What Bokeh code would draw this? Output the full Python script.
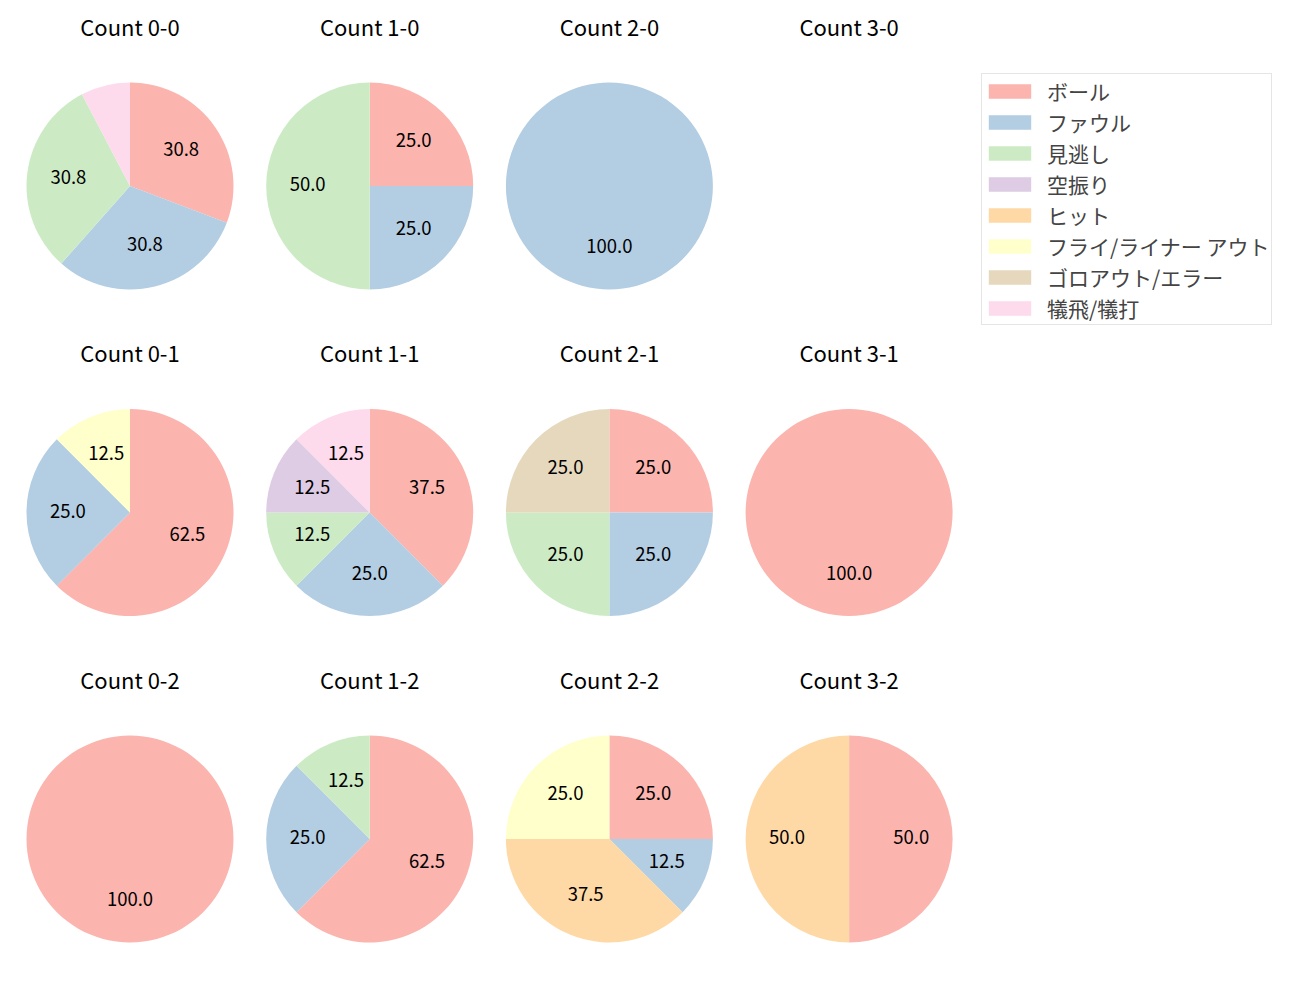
import numpy as np
from bokeh.plotting import figure
from bokeh.models import Range1d, Legend, LegendItem, ColumnDataSource
from bokeh.core.properties import value
from bokeh.embed import file_html
from bokeh.resources import INLINE

categories = ["ボール", "ファウル", "見逃し", "空振り", "ヒット",
              "フライ/ライナー アウト", "ゴロアウト/エラー", "犠飛/犠打"]
colors = ["#fbb4ae", "#b3cde3", "#ccebc5", "#decbe4", "#fed9a6",
          "#ffffcc", "#e5d8bd", "#fddaec"]

pie_titles = ["Count 0-0", "Count 1-0", "Count 2-0", "Count 3-0",
              "Count 0-1", "Count 1-1", "Count 2-1", "Count 3-1",
              "Count 0-2", "Count 1-2", "Count 2-2", "Count 3-2"]

# counts per category, one entry per pie (in pie_titles order)
ball   = [4, 1, 0, 0, 5, 3, 1, 1, 1, 5, 2, 1]
foul   = [4, 1, 1, 0, 2, 2, 1, 0, 0, 2, 1, 0]
called = [4, 2, 0, 0, 0, 1, 1, 0, 0, 1, 0, 0]
swing  = [0, 0, 0, 0, 0, 1, 0, 0, 0, 0, 0, 0]
hit    = [0, 0, 0, 0, 0, 0, 0, 0, 0, 0, 3, 1]
fly    = [0, 0, 0, 0, 1, 0, 0, 0, 0, 0, 2, 0]
ground = [0, 0, 0, 0, 0, 0, 1, 0, 0, 0, 0, 0]
sac    = [1, 0, 0, 0, 0, 1, 0, 0, 0, 0, 0, 0]

series = [ball, foul, called, swing, hit, fly, ground, sac]

FONT = "Noto Sans CJK JP"
W, H = 1284, 984
# layout in screenshot pixel coordinates (y measured downward, flipped below)
CX0, DX = 129.5, 239.7
CY0, DY = 185.5, 326.5
R = 103.5

p = figure(width=W, height=H, output_backend="svg", toolbar_location=None,
           x_range=Range1d(0, W), y_range=Range1d(1000 - H, 1000),
           min_border=0, tools="")
p.xaxis.visible = False
p.yaxis.visible = False
p.xgrid.visible = False
p.ygrid.visible = False
p.outline_line_color = None
p.background_fill_color = "white"

def Y(y):
    return 1000 - y

vals = np.array(series, dtype=float)  # (cat, pie)
totals = vals.sum(axis=0)

lab_x, lab_y, lab_t = [], [], []
renderers = []
for ci, cat in enumerate(categories):
    xs, ys, sa, ea = [], [], [], []
    for pi in range(len(pie_titles)):
        v = vals[ci, pi]
        if totals[pi] == 0 or v == 0:
            continue
        before = vals[:ci, pi].sum() / totals[pi]
        frac = v / totals[pi]
        cx = CX0 + DX * (pi % 4)
        cy = CY0 + DY * (pi // 4)
        span = min(frac * 360.0, 359.99)
        s = 90.0 - before * 360.0
        e = s - span
        xs.append(cx); ys.append(Y(cy)); sa.append(np.deg2rad(s)); ea.append(np.deg2rad(e))
        pct = frac * 100
        if pct >= 10:
            mid = np.deg2rad(90.0 - (before + frac / 2) * 360.0)
            lab_x.append(cx + 0.6 * R * np.cos(mid))
            lab_y.append(Y(cy) + 0.6 * R * np.sin(mid) + 2)
            lab_t.append(f"{pct:.1f}")
    src = ColumnDataSource(dict(x=xs, y=ys, s=sa, e=ea))
    r = p.wedge(x="x", y="y", radius=R, start_angle="s", end_angle="e",
                direction="clock", source=src, fill_color=colors[ci],
                line_color=None)
    renderers.append(r)

p.text(x=lab_x, y=lab_y, text=lab_t, text_align="center", text_baseline="middle",
       text_font=value(FONT), text_font_size="18.5px", text_color="black")

tx = [CX0 + DX * (i % 4) for i in range(len(pie_titles))]
ty = [Y(CY0 + DY * (i // 4) - 160.5) for i in range(len(pie_titles))]
p.text(x=tx, y=ty, text=pie_titles, text_align="center", text_baseline="middle",
       text_font=value(FONT), text_font_size="22px", text_color="black")

legend = Legend(items=[LegendItem(label=c, renderers=[r]) for c, r in zip(categories, renderers)],
                location=(982 - 1, 1000 - 325 - (1000 - H)), margin=0, padding=1,
                glyph_width=53, glyph_height=18, label_height=31, spacing=0,
                label_standoff=11,
                label_text_font=FONT, label_text_font_size="21px",
                border_line_color="#cccccc", border_line_width=1,
                background_fill_color="white", background_fill_alpha=1)
p.add_layout(legend, "center")

open("out.html", "w").write(file_html(p, INLINE))
